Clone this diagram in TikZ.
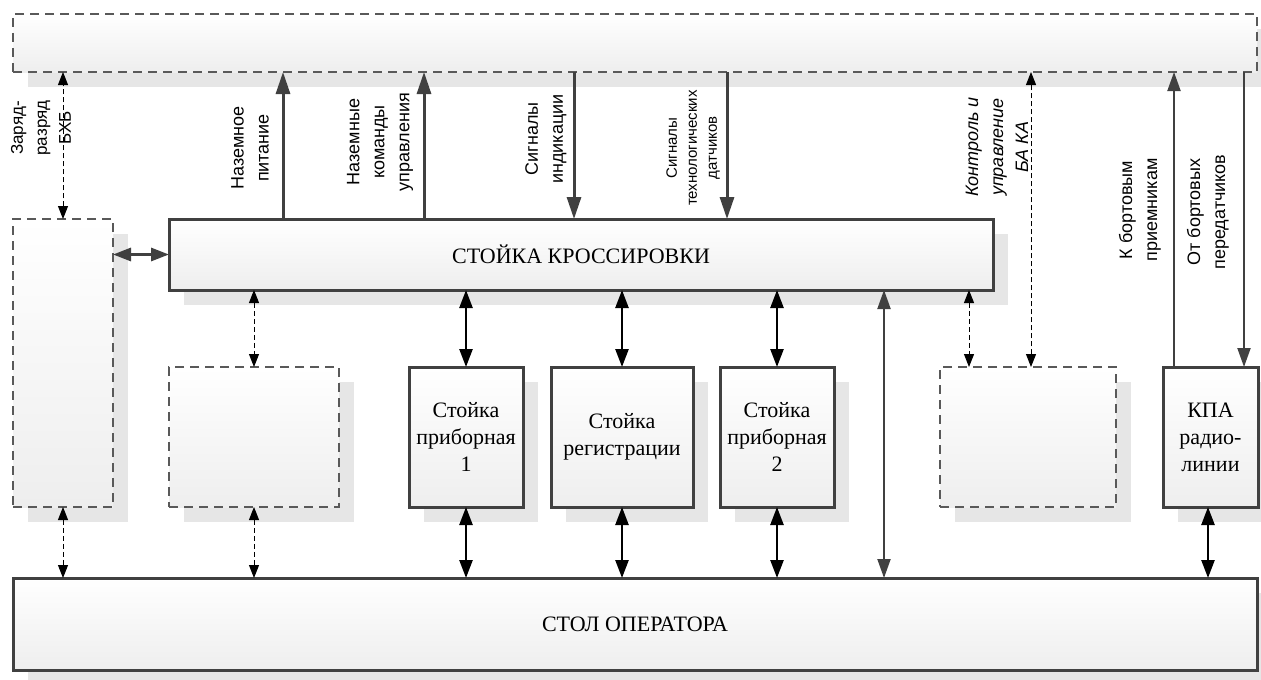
\documentclass[tikz,border=0pt]{standalone}
\usepackage{fontspec}
\setmainfont{Liberation Serif}
\setsansfont{Liberation Sans}
\usetikzlibrary{arrows.meta,shadows}
\definecolor{dk}{RGB}{64,64,64}
\definecolor{dshc}{RGB}{89,89,89}
\definecolor{shd}{RGB}{230,230,230}
\definecolor{grd}{RGB}{238,238,238}
\begin{document}
\begin{tikzpicture}[x=1pt,y=-1pt,
  base/.style={rectangle, inner sep=0pt, outer sep=0pt, top color=white, bottom color=grd,
    drop shadow={shadow xshift=15pt, shadow yshift=-15pt, fill=shd, opacity=1}},
  solidbox/.style={base, draw=dk, line width=3pt, font=\fontsize{22}{27}\selectfont, align=center},
  dashbox/.style={base, draw=dshc, line width=1.5pt, dash pattern=on 9pt off 6pt},
  bus/.style={draw=dk, line width=3pt, -{Triangle[width=14pt,length=22pt]}},
  thinbus/.style={draw=dk, line width=2pt, -{Triangle[width=13pt,length=19pt]}},
  thinbi/.style={draw=dk, line width=2pt, {Triangle[width=13pt,length=19pt]}-{Triangle[width=13pt,length=19pt]}},
  sidebi/.style={draw=dk, line width=3pt, {Triangle[width=13pt,length=18pt]}-{Triangle[width=13pt,length=18pt]}},
  blkbi/.style={draw=black, line width=2.5pt, {Triangle[width=13pt,length=18pt]}-{Triangle[width=13pt,length=18pt]}},
  dshbi/.style={draw=black, line width=1pt, dash pattern=on 5pt off 3pt, {Triangle[width=10pt,length=13pt]}-{Triangle[width=10pt,length=13pt]}},
  lbl/.style={font=\sffamily\fontsize{18}{25}\selectfont, align=center, inner sep=0pt, rotate=90},
  slbl/.style={font=\sffamily\fontsize{15}{20}\selectfont, align=center, inner sep=0pt, rotate=90}]
\useasboundingbox[fill=white] (0,0) rectangle (1261,680);

% boxes
\node[dashbox, minimum width=1244pt, minimum height=58pt] (top) at (635,43) {};
\node[solidbox, minimum width=824pt, minimum height=71pt] (kross) at (581,254.5) {СТОЙКА КРОССИРОВКИ};
\node[dashbox, minimum width=100pt, minimum height=288pt] (leftbox) at (63,363) {};
\node[dashbox, minimum width=170pt, minimum height=140pt] (dbox2) at (254,437) {};
\node[solidbox, minimum width=114pt, minimum height=140pt] (pr1) at (466,437) {Стойка\\приборная\\1};
\node[solidbox, minimum width=142pt, minimum height=140pt] (reg) at (622,437) {Стойка\\регистрации};
\node[solidbox, minimum width=114pt, minimum height=140pt] (pr2) at (777,437) {Стойка\\приборная\\2};
\node[dashbox, minimum width=176pt, minimum height=140pt] (dbox3) at (1028,437) {};
\node[solidbox, minimum width=95pt, minimum height=140pt] (kpa) at (1210.5,437) {КПА\\радио-\\линии};
\node[solidbox, minimum width=1244pt, minimum height=92pt] (stol) at (635,624) {СТОЛ ОПЕРАТОРА};

% top connectors
\draw[dshbi] (leftbox.north) -- (leftbox.north |- top.south);
\draw[bus] (283,0 |- kross.north) -- (283,0 |- top.south);
\draw[bus] (424,0 |- kross.north) -- (424,0 |- top.south);
\draw[bus] (574,0 |- top.south) -- (574,0 |- kross.north);
\draw[bus] (727,0 |- top.south) -- (727,0 |- kross.north);
\draw[dshbi] (1031,0 |- dbox3.north) -- (1031,0 |- top.south);
\draw[thinbus] (1174,0 |- kpa.north) -- (1174,0 |- top.south);
\draw[thinbus] (1244,0 |- top.south) -- (1244,0 |- kpa.north);

% side connector
\draw[sidebi] (leftbox.east |- kross.west) -- (kross.west);

% middle connectors
\draw[dshbi] (kross.south -| dbox2.north) -- (dbox2.north);
\draw[blkbi] (kross.south -| pr1.north) -- (pr1.north);
\draw[blkbi] (kross.south -| reg.north) -- (reg.north);
\draw[blkbi] (kross.south -| pr2.north) -- (pr2.north);
\draw[thinbi] (884,0 |- kross.south) -- (884,0 |- stol.north);
\draw[dshbi] (969,0 |- kross.south) -- (969,0 |- dbox3.north);

% bottom connectors
\draw[dshbi] (leftbox.south) -- (leftbox.south |- stol.north);
\draw[dshbi] (dbox2.south) -- (dbox2.south |- stol.north);
\draw[blkbi] (pr1.south) -- (pr1.south |- stol.north);
\draw[blkbi] (reg.south) -- (reg.south |- stol.north);
\draw[blkbi] (pr2.south) -- (pr2.south |- stol.north);
\draw[blkbi] (1208,0 |- kpa.south) -- (1208,0 |- stol.north);

% labels
\node[lbl, font=\sffamily\fontsize{17}{24}\selectfont] (t1) at (41,128) {Заряд-\\разряд\\БХБ};
\node[lbl] (t2) at (250,148) {Наземное\\питание};
\node[lbl] (t3) at (380,142) {Наземные\\команды\\управления};
\node[lbl] (t4) at (546,139) {Сигналы\\индикации};
\node[slbl] (t5) at (693,148) {Сигналы\\технологических\\датчиков};
\node[lbl, font=\sffamily\itshape\fontsize{18}{25}\selectfont] (t6) at (997,147) {Контроль и\\управление\\БА КА};
\node[lbl] (t7) at (1140,210) {К бортовым\\приемникам};
\node[lbl] (t8) at (1208,212) {От бортовых\\передатчиков};
\end{tikzpicture}
\end{document}
